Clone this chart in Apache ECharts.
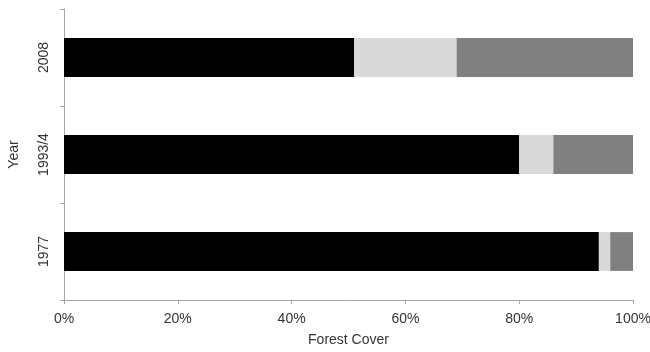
<!DOCTYPE html>
<html>
<head>
<meta charset="utf-8">
<style>
  html, body { margin: 0; padding: 0; background: #fff; }
  #chart { width: 650px; height: 352px; }
</style>
<script src="https://cdn.jsdelivr.net/npm/echarts@6/dist/echarts.min.js"></script>
</head>
<body>
<div id="chart"></div>
<script>
// Forest cover composition by survey year (percent of area)
const years = ['1977', '1993/4', '2008'];
const forest = [94, 80, 51];
const partial = [2, 6, 18];
const cleared = [4, 14, 31];
const xTicks = [0, 20, 40, 60, 80, 100];

const axisGray = '#a6a6a6';
const textColor = '#333333';
const font = 'Liberation Sans, Arial, sans-serif';

const chart = echarts.init(document.getElementById('chart'), null, { renderer: 'canvas' });

function barSeries(name, data, color) {
  return {
    name: name,
    type: 'bar',
    stack: 'cover',
    barWidth: '40%',
    data: data,
    itemStyle: { color: color },
    emphasis: { disabled: true }
  };
}

chart.setOption({
  animation: false,
  grid: { left: 64, right: 17, top: 9, bottom: 52, outerBoundsMode: 'none', containLabel: false },
  xAxis: {
    type: 'value',
    min: xTicks[0],
    max: xTicks[xTicks.length - 1],
    interval: xTicks[1] - xTicks[0],
    name: 'Forest Cover',
    nameLocation: 'middle',
    nameGap: 33,
    nameTextStyle: { color: textColor, fontFamily: font, fontSize: 14 },
    axisLine: { show: true, lineStyle: { color: axisGray, width: 1 } },
    axisTick: { show: true, length: 4, lineStyle: { color: axisGray } },
    splitLine: { show: false },
    axisLabel: { formatter: '{value}%', color: textColor, fontFamily: font, fontSize: 14, margin: 12 }
  },
  yAxis: {
    type: 'category',
    data: years,
    name: 'Year',
    nameLocation: 'middle',
    nameRotate: 90,
    nameGap: 43,
    nameTextStyle: { color: textColor, fontFamily: font, fontSize: 14 },
    axisLine: { show: true, lineStyle: { color: axisGray, width: 1 } },
    axisTick: { show: true, length: 4, lineStyle: { color: axisGray } },
    axisLabel: { rotate: 90, color: textColor, fontFamily: font, fontSize: 14, margin: 13 }
  },
  series: [
    barSeries('Forest', forest, '#000000'),
    barSeries('Partial', partial, '#d9d9d9'),
    barSeries('Cleared', cleared, '#808080')
  ]
});
</script>
</body>
</html>
